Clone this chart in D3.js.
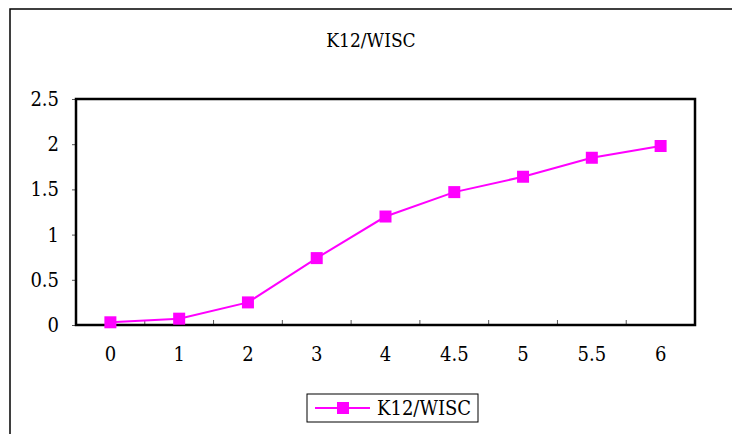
<!DOCTYPE html>
<html>
<head>
<meta charset="utf-8">
<script src="https://cdn.jsdelivr.net/npm/d3@7"></script>
<style>
  body { margin: 0; background: #fff; }
  svg text { font-family: "DejaVu Serif", serif; font-stretch: condensed; }
</style>
</head>
<body>
<div id="chart"></div>
<script>
var categories = ["0", "1", "2", "3", "4", "4.5", "5", "5.5", "6"];
var values = [0.03, 0.07, 0.25, 0.74, 1.2, 1.47, 1.64, 1.85, 1.98];
var yTicks = [0, 0.5, 1, 1.5, 2, 2.5];
var seriesName = "K12/WISC";

var W = 732, H = 434;
var margin = { top: 99, left: 76, right: 37, bottom: 109 };
var width = W - margin.left - margin.right,
    height = H - margin.top - margin.bottom;

var root = d3.select("#chart").append("svg")
  .attr("width", W).attr("height", H);

// outer frame
root.append("rect")
  .attr("x", 10).attr("y", 9)
  .attr("width", 740).attr("height", 440)
  .attr("fill", "none").attr("stroke", "#000").attr("stroke-width", 1.5);

root.append("text")
  .attr("x", 371).attr("y", 47)
  .attr("text-anchor", "middle")
  .style("font-size", "19px")
  .text(seriesName);

var svg = root.append("g")
  .attr("transform", "translate(" + margin.left + "," + margin.top + ")");

var xBand = d3.scaleBand().domain(categories).range([0, width]);
var yScale = d3.scaleLinear().domain([0, 2.5]).range([height, 0]);

// y axis
var yAxis = d3.axisLeft(yScale).tickValues(yTicks).tickSize(4).tickPadding(13)
  .tickFormat(function(d) { return d; });
var gy = svg.append("g").call(yAxis);
gy.select(".domain").remove();
gy.selectAll("line").attr("stroke", "#555");
gy.selectAll("text").style("font-size", "20px").attr("fill", "#000");

// x axis
var xAxis = d3.axisBottom(xBand).tickSize(0).tickPadding(22);
var gx = svg.append("g").attr("transform", "translate(0," + height + ")").call(xAxis);
gx.select(".domain").remove();
gx.selectAll("text").style("font-size", "20px").attr("fill", "#000");

// x tick marks between categories, pointing up inside
svg.selectAll(".xtick")
  .data(categories.slice(1))
  .enter().append("line")
  .attr("class", "xtick")
  .attr("x1", function(d) { return xBand(d); })
  .attr("x2", function(d) { return xBand(d); })
  .attr("y1", height).attr("y2", height - 5)
  .attr("stroke", "#555");

// plot frame
svg.append("rect")
  .attr("width", width).attr("height", height)
  .attr("fill", "none").attr("stroke", "#000").attr("stroke-width", 2.5);

var line = d3.line()
  .x(function(d, i) { return xBand(categories[i]) + xBand.bandwidth() / 2; })
  .y(function(d) { return yScale(d); });

svg.append("path")
  .datum(values)
  .attr("d", line)
  .attr("fill", "none")
  .attr("stroke", "#ff00ff")
  .attr("stroke-width", 2);

svg.selectAll(".pt")
  .data(values)
  .enter().append("rect")
  .attr("class", "pt")
  .attr("x", function(d, i) { return xBand(categories[i]) + xBand.bandwidth() / 2 - 6; })
  .attr("y", function(d) { return yScale(d) - 6; })
  .attr("width", 12).attr("height", 12)
  .attr("fill", "#ff00ff");

// legend
var lg = root.append("g").attr("transform", "translate(307,394)");
lg.append("rect").attr("width", 171).attr("height", 28)
  .attr("fill", "#fff").attr("stroke", "#000").attr("stroke-width", 1);
lg.append("line").attr("x1", 8).attr("x2", 63).attr("y1", 14).attr("y2", 14)
  .attr("stroke", "#ff00ff").attr("stroke-width", 2);
lg.append("rect").attr("x", 30).attr("y", 8).attr("width", 12).attr("height", 12)
  .attr("fill", "#ff00ff");
lg.append("text").attr("x", 70).attr("y", 21)
  .style("font-size", "20px")
  .text(seriesName);
</script>
</body>
</html>
